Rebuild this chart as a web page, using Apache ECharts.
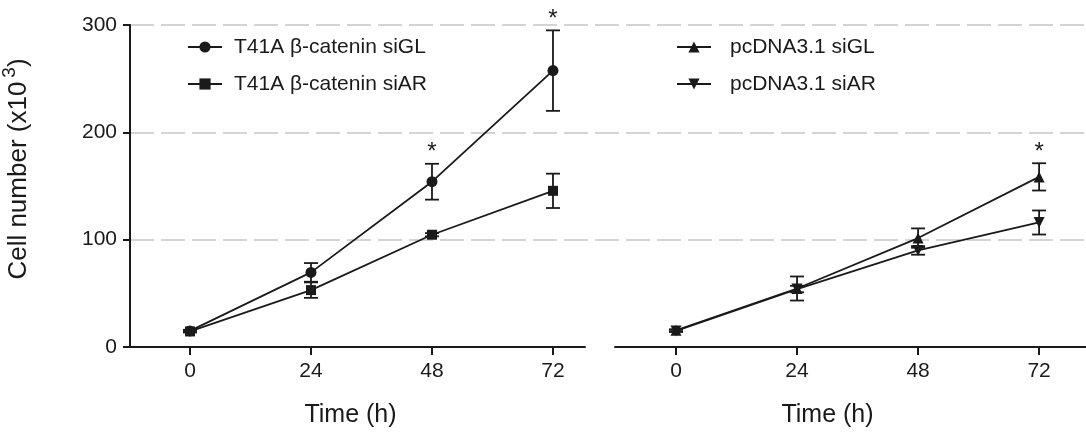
<!DOCTYPE html>
<html>
<head>
    <meta charset="utf-8">
    <title>Cell number</title>
    <script src="https://cdn.jsdelivr.net/npm/echarts@6.0.0/dist/echarts.min.js"></script>
    <style>
        html, body {
            margin: 0;
            padding: 0;
            width: 100%;
            height: 100%;
            overflow: hidden;
            background: #ffffff;
        }
        #chart {
            width: 1086px;
            height: 435px;
        }
    </style>
</head>
<body>
    <div id="chart"></div>
    <script>
        // 数据 (x10^3 cells)
        const hours = [0, 24, 48, 72];
        const t41aSiGL = [15, 69.5, 154, 257.5];
        const t41aSiGLErr = [1, 8.7, 16.7, 37.5];
        const t41aSiAR = [14.5, 53, 104.6, 145.5];
        const t41aSiARErr = [1, 7.2, 1.5, 16];
        const pcSiGL = [15.5, 54.5, 101.5, 158.5];
        const pcSiGLErr = [1, 11.2, 9, 12.7];
        const pcSiAR = [15, 54, 90, 116];
        const pcSiARErr = [1, 3, 4, 11.2];
        const leftStarHours = [48, 72];
        const rightStarHours = [72];

        const names = {
            t41aGL: 'T41A β-catenin siGL',
            t41aAR: 'T41A β-catenin siAR',
            pcGL: 'pcDNA3.1 siGL',
            pcAR: 'pcDNA3.1 siAR'
        };

        const ink = '#1a1a1a';
        const font = '"Liberation Sans", Arial, sans-serif';
        const downTriangle = 'path://M0,0L10,0L5,9Z';

        const chart = echarts.init(document.getElementById('chart'), null, { renderer: 'canvas' });

        function pairs(vals) {
            return hours.map((h, i) => [h, vals[i]]);
        }

        function bars(vals, errs) {
            return hours.map((h, i) => [h, vals[i] - errs[i], vals[i] + errs[i]]);
        }

        function stars(starHours, vals, errs) {
            return starHours.map(h => {
                const i = hours.indexOf(h);
                return [h, vals[i] + errs[i]];
            });
        }

        // 误差棒
        function renderErrorBar(params, api) {
            const x = api.value(0);
            const lo = api.coord([x, api.value(1)]);
            const hi = api.coord([x, api.value(2)]);
            const cap = 7;
            const style = { stroke: ink, lineWidth: 1.8 };
            return {
                type: 'group',
                children: [
                    { type: 'line', shape: { x1: lo[0], y1: lo[1], x2: hi[0], y2: hi[1] }, style: style },
                    { type: 'line', shape: { x1: lo[0] - cap, y1: lo[1], x2: lo[0] + cap, y2: lo[1] }, style: style },
                    { type: 'line', shape: { x1: hi[0] - cap, y1: hi[1], x2: hi[0] + cap, y2: hi[1] }, style: style }
                ]
            };
        }

        function renderStar(params, api) {
            const p = api.coord([api.value(0), api.value(1)]);
            return {
                type: 'text',
                style: {
                    text: '*',
                    x: p[0],
                    y: p[1] - 11,
                    align: 'center',
                    verticalAlign: 'middle',
                    fontSize: 24,
                    fontFamily: font,
                    fill: ink
                }
            };
        }

        function lineSeries(name, vals, symbol, size, axis) {
            return {
                name: name,
                type: 'line',
                xAxisIndex: axis,
                yAxisIndex: axis,
                data: pairs(vals),
                symbol: symbol,
                symbolSize: size,
                lineStyle: { color: ink, width: 1.8 },
                itemStyle: { color: ink },
                z: 4
            };
        }

        function errorSeries(vals, errs, axis) {
            return {
                type: 'custom',
                xAxisIndex: axis,
                yAxisIndex: axis,
                data: bars(vals, errs),
                renderItem: renderErrorBar,
                z: 3
            };
        }

        function starSeries(data, axis) {
            return {
                type: 'custom',
                xAxisIndex: axis,
                yAxisIndex: axis,
                data: data,
                renderItem: renderStar,
                z: 5
            };
        }

        const axisLineStyle = { color: ink, width: 2 };

        function timeAxis(grid, min, max, shiftRight) {
            return {
                type: 'value',
                gridIndex: grid,
                min: min,
                max: max,
                axisLine: { show: true, onZero: false, lineStyle: axisLineStyle },
                axisTick: { show: true, customValues: hours, length: 8, lineStyle: axisLineStyle },
                axisLabel: { customValues: hours, fontSize: 21, margin: 14, color: ink, fontFamily: font },
                splitLine: { show: false },
                name: 'Time (h)',
                nameLocation: 'middle',
                nameGap: 56,
                nameTextStyle: { fontSize: 25, color: ink, fontFamily: font, padding: [0, shiftRight, 0, 0] }
            };
        }

        function legendBox(data, left, textPad) {
            return {
                data: data,
                orient: 'vertical',
                left: left,
                top: 35,
                padding: 0,
                itemWidth: 34,
                itemHeight: 14,
                itemGap: 13,
                selectedMode: false,
                textStyle: { fontSize: 21, lineHeight: 24, color: ink, fontFamily: font, padding: [0, 0, 0, textPad] }
            };
        }

        const option = {
            animation: false,
            backgroundColor: '#ffffff',
            textStyle: { fontFamily: font },
            grid: [
                { left: 130, width: 455, top: 25, bottom: 88, outerBoundsMode: 'none' },
                { left: 615, right: 0, top: 25, bottom: 88, outerBoundsMode: 'none' },
                { left: 130, right: 0, top: 25, bottom: 88, outerBoundsMode: 'none' }
            ],
            legend: [
                legendBox([names.t41aGL, names.t41aAR], 187, 7),
                legendBox([names.pcGL, names.pcAR], 676, 14)
            ],
            xAxis: [
                timeAxis(0, -11.9, 78.35, 14),
                timeAxis(1, -12.1, 81.3, 46),
                { type: 'value', gridIndex: 2, min: 0, max: 1, show: false }
            ],
            yAxis: [
                {
                    type: 'value',
                    gridIndex: 0,
                    min: 0,
                    max: 300,
                    interval: 100,
                    axisLine: { show: true, onZero: false, lineStyle: axisLineStyle },
                    axisTick: { show: true, length: 7, lineStyle: axisLineStyle },
                    axisLabel: { fontSize: 21, margin: 13, color: ink, fontFamily: font },
                    splitLine: { show: false },
                    name: '{a|Cell number (x10}{s|3}{a|)}',
                    nameLocation: 'middle',
                    nameGap: 92,
                    nameTextStyle: {
                        padding: [0, 0, 0, 34],
                        rich: {
                            a: { fontSize: 26, lineHeight: 38, color: ink, fontFamily: font },
                            s: { fontSize: 19, lineHeight: 17, verticalAlign: 'top', color: ink, fontFamily: font, padding: [0, 0, 0, 4] }
                        }
                    }
                },
                { type: 'value', gridIndex: 1, min: 0, max: 300, show: false },
                {
                    type: 'value',
                    gridIndex: 2,
                    min: 0,
                    max: 300,
                    interval: 100,
                    axisLine: { show: false },
                    axisTick: { show: false },
                    axisLabel: { show: false },
                    splitLine: {
                        show: true,
                        showMinLine: false,
                        lineStyle: { type: [24, 7], color: '#d4d4d4', width: 2 }
                    }
                }
            ],
            series: [
                errorSeries(t41aSiGL, t41aSiGLErr, 0),
                errorSeries(t41aSiAR, t41aSiARErr, 0),
                lineSeries(names.t41aGL, t41aSiGL, 'circle', 11, 0),
                lineSeries(names.t41aAR, t41aSiAR, 'rect', 10, 0),
                starSeries(stars(leftStarHours, t41aSiGL, t41aSiGLErr), 0),
                errorSeries(pcSiGL, pcSiGLErr, 1),
                errorSeries(pcSiAR, pcSiARErr, 1),
                lineSeries(names.pcGL, pcSiGL, 'triangle', 11, 1),
                lineSeries(names.pcAR, pcSiAR, downTriangle, 11, 1),
                starSeries(stars(rightStarHours, pcSiGL, pcSiGLErr), 1)
            ]
        };

        chart.setOption(option);
    </script>
</body>
</html>
